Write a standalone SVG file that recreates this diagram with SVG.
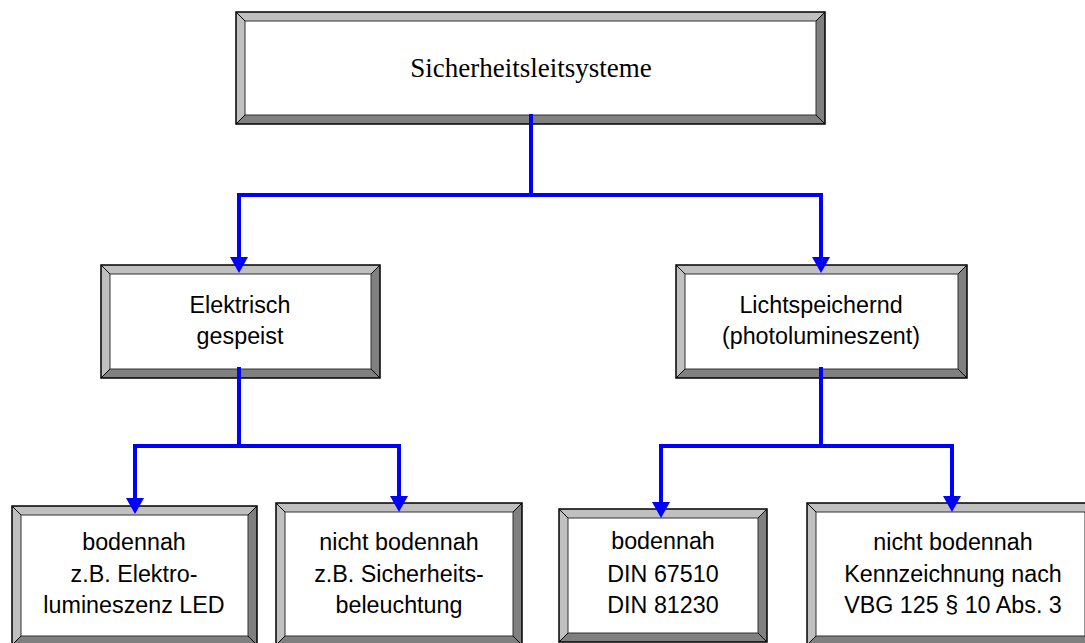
<svg xmlns="http://www.w3.org/2000/svg" width="1085" height="643" viewBox="0 0 1085 643">
  <style>
    .lt { fill: #c0c0c0; }
    .dk { fill: #808080; }
    .face { fill: #ffffff; stroke: #303030; stroke-width: 1; }
    .rim { fill: none; stroke: #000000; stroke-width: 1.5; }
    .diag { stroke: #000000; stroke-width: 1; }
    .serif { font-family: "Liberation Serif", "Times New Roman", serif; font-size: 27px; fill: #000; text-anchor: middle; }
    .sans { font-family: "Liberation Sans", Arial, sans-serif; font-size: 23.3px; fill: #000; text-anchor: middle; }
    .wire { fill: none; stroke: #0000ff; stroke-width: 4; stroke-linejoin: miter; }
  </style>
  <defs>
    <marker id="head" markerUnits="userSpaceOnUse" markerWidth="16" markerHeight="18" viewBox="0 0 16 18" refX="0" refY="9" orient="auto">
      <path d="M0,0 L16,9 L0,18 z" fill="#0000ff"/>
    </marker>
  </defs>
  <rect width="1085" height="643" fill="#ffffff"/>

  <!-- top box: x 236..825, y 12..124, bevel 9 -->
  <g id="n-root">
    <polygon class="lt" points="236,12 825,12 816,21 245,21"/>
    <polygon class="lt" points="236,12 245,21 245,115 236,124"/>
    <polygon class="dk" points="825,12 825,124 816,115 816,21"/>
    <polygon class="dk" points="236,124 825,124 816,115 245,115"/>
    <rect class="face" x="245" y="21" width="571" height="94"/>
    <line class="diag" x1="236" y1="12" x2="245" y2="21"/>
    <line class="diag" x1="825" y1="12" x2="816" y2="21"/>
    <line class="diag" x1="236" y1="124" x2="245" y2="115"/>
    <line class="diag" x1="825" y1="124" x2="816" y2="115"/>
    <rect class="rim" x="236" y="12" width="589" height="112"/>
    <text class="serif" x="531" y="77">Sicherheitsleitsysteme</text>
  </g>

  <!-- Elektrisch gespeist: x 101..380, y 265..378 -->
  <g id="n-elektrisch">
    <polygon class="lt" points="101,265 380,265 371,274 110,274"/>
    <polygon class="lt" points="101,265 110,274 110,369 101,378"/>
    <polygon class="dk" points="380,265 380,378 371,369 371,274"/>
    <polygon class="dk" points="101,378 380,378 371,369 110,369"/>
    <rect class="face" x="110" y="274" width="261" height="95"/>
    <line class="diag" x1="101" y1="265" x2="110" y2="274"/>
    <line class="diag" x1="380" y1="265" x2="371" y2="274"/>
    <line class="diag" x1="101" y1="378" x2="110" y2="369"/>
    <line class="diag" x1="380" y1="378" x2="371" y2="369"/>
    <rect class="rim" x="101" y="265" width="279" height="113"/>
    <text class="sans" x="240" y="313">Elektrisch</text>
    <text class="sans" x="240" y="344">gespeist</text>
  </g>

  <!-- Lichtspeichernd: x 676..967, y 265..378 -->
  <g id="n-lichtspeichernd">
    <polygon class="lt" points="676,265 967,265 958,274 685,274"/>
    <polygon class="lt" points="676,265 685,274 685,369 676,378"/>
    <polygon class="dk" points="967,265 967,378 958,369 958,274"/>
    <polygon class="dk" points="676,378 967,378 958,369 685,369"/>
    <rect class="face" x="685" y="274" width="273" height="95"/>
    <line class="diag" x1="676" y1="265" x2="685" y2="274"/>
    <line class="diag" x1="967" y1="265" x2="958" y2="274"/>
    <line class="diag" x1="676" y1="378" x2="685" y2="369"/>
    <line class="diag" x1="967" y1="378" x2="958" y2="369"/>
    <rect class="rim" x="676" y="265" width="291" height="113"/>
    <text class="sans" x="821" y="313">Lichtspeichernd</text>
    <text class="sans" x="821" y="344">(photolumineszent)</text>
  </g>

  <!-- bodennah (elektrisch): x 12..257, y 506..645 -->
  <g id="n-el-bodennah">
    <polygon class="lt" points="12,506 257,506 248,515 21,515"/>
    <polygon class="lt" points="12,506 21,515 21,636 12,645"/>
    <polygon class="dk" points="257,506 257,645 248,636 248,515"/>
    <polygon class="dk" points="12,645 257,645 248,636 21,636"/>
    <rect class="face" x="21" y="515" width="227" height="121"/>
    <line class="diag" x1="12" y1="506" x2="21" y2="515"/>
    <line class="diag" x1="257" y1="506" x2="248" y2="515"/>
    <line class="diag" x1="12" y1="645" x2="21" y2="636"/>
    <line class="diag" x1="257" y1="645" x2="248" y2="636"/>
    <rect class="rim" x="12" y="506" width="245" height="139"/>
    <text class="sans" x="134" y="550">bodennah</text>
    <text class="sans" x="134" y="582">z.B. Elektro-</text>
    <text class="sans" x="134" y="613">lumineszenz LED</text>
  </g>

  <!-- nicht bodennah (elektrisch): x 276..522, y 503..645 -->
  <g id="n-el-nicht-bodennah">
    <polygon class="lt" points="276,503 522,503 513,512 285,512"/>
    <polygon class="lt" points="276,503 285,512 285,636 276,645"/>
    <polygon class="dk" points="522,503 522,645 513,636 513,512"/>
    <polygon class="dk" points="276,645 522,645 513,636 285,636"/>
    <rect class="face" x="285" y="512" width="228" height="124"/>
    <line class="diag" x1="276" y1="503" x2="285" y2="512"/>
    <line class="diag" x1="522" y1="503" x2="513" y2="512"/>
    <line class="diag" x1="276" y1="645" x2="285" y2="636"/>
    <line class="diag" x1="522" y1="645" x2="513" y2="636"/>
    <rect class="rim" x="276" y="503" width="246" height="142"/>
    <text class="sans" x="399" y="550">nicht bodennah</text>
    <text class="sans" x="399" y="582">z.B. Sicherheits-</text>
    <text class="sans" x="399" y="613">beleuchtung</text>
  </g>

  <!-- bodennah (lichtspeichernd): x 559..767, y 509..642 -->
  <g id="n-ls-bodennah">
    <polygon class="lt" points="559,509 767,509 758,518 568,518"/>
    <polygon class="lt" points="559,509 568,518 568,633 559,642"/>
    <polygon class="dk" points="767,509 767,642 758,633 758,518"/>
    <polygon class="dk" points="559,642 767,642 758,633 568,633"/>
    <rect class="face" x="568" y="518" width="190" height="115"/>
    <line class="diag" x1="559" y1="509" x2="568" y2="518"/>
    <line class="diag" x1="767" y1="509" x2="758" y2="518"/>
    <line class="diag" x1="559" y1="642" x2="568" y2="633"/>
    <line class="diag" x1="767" y1="642" x2="758" y2="633"/>
    <rect class="rim" x="559" y="509" width="208" height="133"/>
    <text class="sans" x="663" y="549">bodennah</text>
    <text class="sans" x="663" y="582">DIN 67510</text>
    <text class="sans" x="663" y="613">DIN 81230</text>
  </g>

  <!-- nicht bodennah (lichtspeichernd): x 807..1094, y 503..645 -->
  <g id="n-ls-nicht-bodennah">
    <polygon class="lt" points="807,503 1094,503 1085,512 816,512"/>
    <polygon class="lt" points="807,503 816,512 816,636 807,645"/>
    <polygon class="dk" points="1094,503 1094,645 1085,636 1085,512"/>
    <polygon class="dk" points="807,645 1094,645 1085,636 816,636"/>
    <rect class="face" x="816" y="512" width="269" height="124"/>
    <line class="diag" x1="807" y1="503" x2="816" y2="512"/>
    <line class="diag" x1="807" y1="645" x2="816" y2="636"/>
    <rect class="rim" x="807" y="503" width="287" height="142"/>
    <text class="sans" x="953" y="550">nicht bodennah</text>
    <text class="sans" x="953" y="582">Kennzeichnung nach</text>
    <text class="sans" x="953" y="613">VBG 125 § 10 Abs. 3</text>
  </g>

  <!-- blue tree connectors -->
  <g id="connectors">
    <path class="wire" d="M531,114 V195"/>
    <path class="wire" d="M531,195 H239 V257" marker-end="url(#head)"/>
    <path class="wire" d="M531,195 H821 V257" marker-end="url(#head)"/>
    <path class="wire" d="M239,367 V446"/>
    <path class="wire" d="M239,446 H135 V498" marker-end="url(#head)"/>
    <path class="wire" d="M239,446 H399 V496" marker-end="url(#head)"/>
    <path class="wire" d="M821,367 V446"/>
    <path class="wire" d="M821,446 H661 V502" marker-end="url(#head)"/>
    <path class="wire" d="M821,446 H952 V496" marker-end="url(#head)"/>
  </g>
</svg>
